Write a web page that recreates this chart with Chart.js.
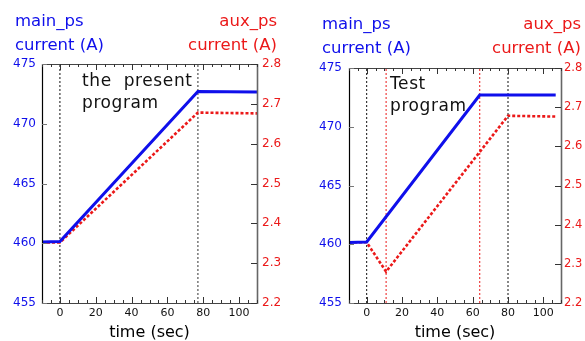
<!DOCTYPE html>
<html>
<head>
<meta charset="utf-8">
<script src="https://cdn.jsdelivr.net/npm/chart.js@4.4.1/dist/chart.umd.min.js"></script>
<style>
  html, body { margin: 0; padding: 0; background: #fff; overflow: hidden; }
  #wrap { position: relative; width: 585px; height: 341px; overflow: hidden; }
  canvas { position: absolute; top: 0; }
</style>
</head>
<body>
<div id="wrap">
  <canvas id="c1" width="290" height="341" style="left:0px"></canvas>
  <canvas id="c2" width="290" height="341" style="left:295px"></canvas>
</div>
<script>
// ---- data ----
const xTicks = [0, 20, 40, 60, 80, 100];
const mainTicks = [455, 460, 465, 470, 475];
const auxTicks = [2.2, 2.3, 2.4, 2.5, 2.6, 2.7, 2.8];

// left panel: "the present program"
const leftMainTime = [-10, 0, 77, 110];
const leftMainVal  = [460.1, 460.15, 472.7, 472.65];
const leftAuxTime  = [-10, 0, 77, 110];
const leftAuxVal   = [2.352, 2.352, 2.678, 2.676];
const leftMarkers  = [0, 77];

// right panel: "Test program"
const rightMainTime = [-10, 0, 64, 107];
const rightMainVal  = [460.15, 460.2, 472.7, 472.7];
const rightAuxTime  = [-10, 0, 11, 80, 107];
const rightAuxVal   = [2.355, 2.355, 2.28, 2.678, 2.676];
const rightMarkers  = [0, 11, 64, 80];

const BLUE = 'rgb(15,15,235)';
const RED = 'rgb(235,25,25)';
const FONT = "'DejaVu Sans', sans-serif";

function pts(t, v) { return t.map((x, i) => ({x: x, y: v[i]})); }

function makePanel(id, o) {
  const markerSets = o.markers.map((m, i) => ({
    data: [{x: m, y: 455}, {x: m, y: 475}],
    yAxisID: 'y',
    borderColor: o.markerColors[i],
    borderWidth: o.markerWidths[i],
    borderDash: [2, 2],
    pointRadius: 0,
    order: 5
  }));
  const decor = {
    id: 'decor' + id,
    afterDatasetsDraw(chart) {
      const ctx = chart.ctx, a = chart.chartArea;
      const sx = chart.scales.x, sy = chart.scales.y, sy2 = chart.scales.y2;
      ctx.save();
      ctx.lineWidth = 1;
      ctx.strokeStyle = '#444';
      ctx.beginPath();
      ctx.moveTo(a.left, a.top + 0.5); ctx.lineTo(a.right, a.top + 0.5);
      ctx.moveTo(a.left, a.bottom + 0.5); ctx.lineTo(a.right, a.bottom + 0.5);
      ctx.stroke();
      ctx.strokeStyle = '#666'; ctx.lineWidth = 1.6;
      ctx.beginPath(); ctx.moveTo(a.right + 0.5, a.top); ctx.lineTo(a.right + 0.5, a.bottom + 1); ctx.stroke();
      ctx.strokeStyle = '#000'; ctx.lineWidth = 1.2;
      ctx.beginPath(); ctx.moveTo(a.left + 0.5, a.top); ctx.lineTo(a.left + 0.5, a.bottom + 1); ctx.stroke();
      ctx.strokeStyle = '#333'; ctx.lineWidth = 1;
      ctx.beginPath();
      for (let v = -10; v <= 110; v += 5) {
        const px = Math.round(sx.getPixelForValue(v)) + 0.5;
        const len = (v % 20 === 0) ? 6 : 3;
        ctx.moveTo(px, a.bottom); ctx.lineTo(px, a.bottom - len);
        ctx.moveTo(px, a.top); ctx.lineTo(px, a.top + len);
      }
      ctx.stroke();
      ctx.strokeStyle = '#777';
      ctx.beginPath();
      mainTicks.forEach(v => {
        const py = Math.round(sy.getPixelForValue(v)) + 0.5;
        ctx.moveTo(a.left, py); ctx.lineTo(a.left + 5, py);
      });
      ctx.stroke();
      ctx.strokeStyle = '#333';
      ctx.beginPath();
      auxTicks.forEach(v => {
        const py = Math.round(sy2.getPixelForValue(v)) + 0.5;
        ctx.moveTo(a.right, py); ctx.lineTo(a.right - 6, py);
      });
      ctx.stroke();
      ctx.restore();
    },
    afterDraw(chart) {
      const ctx = chart.ctx;
      ctx.save();
      ctx.font = '16.5px ' + FONT;
      ctx.textBaseline = 'alphabetic';
      ctx.fillStyle = BLUE; ctx.textAlign = 'left';
      ctx.fillText('main_ps', o.mainX, o.titleY1);
      ctx.fillText('current (A)', o.mainX, o.titleY2);
      ctx.fillStyle = RED; ctx.textAlign = 'right';
      ctx.fillText('aux_ps', o.auxX, o.titleY1);
      ctx.fillText('current (A)', o.auxX, o.titleY2);
      ctx.fillStyle = '#111'; ctx.textAlign = 'left';
      ctx.font = '17px ' + FONT;
      ctx.letterSpacing = '0.6px';
      ctx.fillText(o.note[0], o.noteX, o.noteY1);
      ctx.fillText(o.note[1], o.noteX, o.noteY2);
      ctx.restore();
    }
  };
  return new Chart(document.getElementById(id), {
    type: 'line',
    data: {
      datasets: [
        {
          data: pts(o.mainT, o.mainV), yAxisID: 'y',
          borderColor: BLUE, borderWidth: 3, pointRadius: 0, order: 1
        },
        {
          data: pts(o.auxT, o.auxV), yAxisID: 'y2',
          borderColor: RED, borderWidth: 2.6, borderDash: [3, 2], pointRadius: 0, order: 2
        },
        ...markerSets
      ]
    },
    options: {
      responsive: false,
      animation: false,
      devicePixelRatio: 1,
      layout: { padding: { top: o.top, bottom: 0, left: 0, right: 0 } },
      plugins: { legend: { display: false }, tooltip: { enabled: false } },
      scales: {
        x: {
          type: 'linear', min: -10, max: 110,
          afterBuildTicks: s => { s.ticks = xTicks.map(v => ({value: v})); },
          afterFit: s => { s.height = 38; },
          grid: { display: false, drawTicks: false },
          border: { display: false },
          ticks: { color: '#111', font: { family: FONT, size: 11 }, padding: 4, maxRotation: 0 },
          title: { display: true, text: 'time (sec)', color: '#000',
                   font: { family: FONT, size: 16, lineHeight: 1 }, padding: { top: 0, bottom: 0 } }
        },
        y: {
          position: 'left', min: 455, max: 475,
          afterBuildTicks: s => { s.ticks = mainTicks.map(v => ({value: v})); },
          afterFit: s => { s.width = o.leftW; },
          grid: { display: false, drawTicks: false },
          border: { display: false },
          ticks: { color: BLUE, font: { family: FONT, size: 12 }, padding: o.leftPad }
        },
        y2: {
          position: 'right', min: 2.2, max: 2.8,
          afterBuildTicks: s => { s.ticks = auxTicks.map(v => ({value: v})); },
          afterFit: s => { s.width = o.rightW; },
          grid: { display: false, drawTicks: false },
          border: { display: false },
          ticks: { color: RED, font: { family: FONT, size: o.rightFont }, padding: o.rightPad,
                   callback: v => Number(v).toFixed(1) }
        }
      }
    },
    plugins: [decor]
  });
}

makePanel('c1', {
  mainT: leftMainTime, mainV: leftMainVal, auxT: leftAuxTime, auxV: leftAuxVal,
  markers: leftMarkers, markerColors: ['#111', '#777'], markerWidths: [1, 1.5],
  top: 64, leftW: 42, rightW: 33, leftPad: 6, rightFont: 12, rightPad: 5,
  mainX: 15, auxX: 277, titleY1: 26, titleY2: 50,
  note: ['the  present', 'program'], noteX: 82, noteY1: 86, noteY2: 108
});
makePanel('c2', {
  mainT: rightMainTime, mainV: rightMainVal, auxT: rightAuxTime, auxV: rightAuxVal,
  markers: rightMarkers, markerColors: ['#111', RED, RED, '#111'], markerWidths: [1, 1, 1, 1],
  top: 68, leftW: 54, rightW: 24, leftPad: 7, rightFont: 11.5, rightPad: 3,
  mainX: 27, auxX: 286, titleY1: 29, titleY2: 53,
  note: ['Test', 'program'], noteX: 95, noteY1: 89, noteY2: 111
});
</script>
</body>
</html>
